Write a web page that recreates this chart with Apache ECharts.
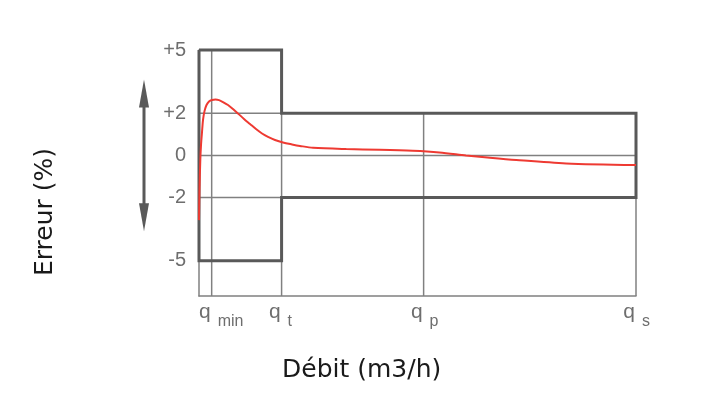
<!DOCTYPE html>
<html>
<head>
<meta charset="utf-8">
<script src="https://cdn.jsdelivr.net/npm/echarts@6/dist/echarts.min.js"></script>
<style>html,body{margin:0;padding:0;background:#fff}#chart{width:715px;height:406px}</style>
</head>
<body>
<div id="chart"></div>
<script>
// ---- data ----
const qNames = ['min', 't', 'p', 's'];          // subscripts of q
const qPositions = [2.9, 18.9, 51.4, 100];       // relative flow (% of qs)
const yTickValues = [5, 2, 0, -2, -5];           // error tick labels (%)
const yMin = -6.67, yMax = 5;
const refLevels = [2, 0, -2];                    // thin horizontal reference lines
const mpeLowFlow = 5;                            // max permissible error below qt (%)
const mpeHighFlow = 2;                           // max permissible error above qt (%)
const curveX = [0, 0.11, 0.3, 0.46, 0.69, 0.92, 1.26, 1.72, 2.29, 2.97, 3.78, 4.58, 5.49, 6.64, 7.78, 8.92, 10.3, 11.67, 13.04, 14.42, 15.79, 17.39, 19.22, 21.28, 23.1, 26.1, 33.7, 41.3, 48.9, 55.0, 61.1, 66.0, 72.6, 84.0, 100];
const curveY = [-3.07, -1.65, -0.22, 0.49, 1.11, 1.68, 2.1, 2.39, 2.56, 2.63, 2.65, 2.62, 2.53, 2.39, 2.2, 1.99, 1.73, 1.49, 1.25, 1.04, 0.88, 0.73, 0.61, 0.52, 0.45, 0.36, 0.3, 0.27, 0.22, 0.14, 0.0, -0.1, -0.22, -0.38, -0.46];
const arrowRange = [-3.6, 3.6];

(function () {
const qmin = qPositions[0], qt = qPositions[1], qp = qPositions[2], qs = qPositions[3];
const thin = { color: '#808080', width: 1.5 };
const series = [];
function seg(points, style, z) {
  series.push({ type: 'line', data: points, symbol: 'none', clip: false, silent: true,
    lineStyle: style, z: z, animation: false });
}
refLevels.forEach(v => seg([[0, v], [100, v]], thin, 1));
seg([[qmin, yMin], [qmin, yMax]], thin, 1);
seg([[qt, yMin], [qt, yMax]], thin, 1);
seg([[qp, yMin], [qp, mpeHighFlow]], thin, 1);
seg([[qs, yMin], [qs, mpeHighFlow]], thin, 1);
seg([[0, mpeLowFlow], [qt, mpeLowFlow], [qt, mpeHighFlow], [qs, mpeHighFlow], [qs, -mpeHighFlow],
     [qt, -mpeHighFlow], [qt, -mpeLowFlow], [0, -mpeLowFlow], [0, mpeLowFlow]],
    { color: '#595959', width: 3, join: 'miter' }, 2);
series.push({ type: 'line', data: curveX.map((x, i) => [x, curveY[i]]), symbol: 'none',
  smooth: 0.3, clip: false, lineStyle: { color: '#ee3a32', width: 2 }, z: 3, animation: false });

const labelColor = '#6e6e6e';
const chart = echarts.init(document.getElementById('chart'), null, { renderer: 'canvas' });
chart.setOption({
  animation: false,
  grid: { left: 199, top: 50, width: 437, height: 246, containLabel: false },
  xAxis: [
    { type: 'value', min: 0, max: 100, splitLine: { show: false },
      axisLine: { show: true, onZero: false, lineStyle: thin }, axisTick: { show: false },
      axisLabel: { customValues: qPositions, formatter: () => 'q', align: 'right', padding: [0, 1, 0, 0],
        fontSize: 21, color: labelColor, fontFamily: 'Liberation Sans', margin: 6 } },
    { type: 'value', min: 0, max: 100, position: 'bottom', splitLine: { show: false },
      axisLine: { show: false }, axisTick: { show: false },
      axisLabel: { customValues: qPositions,
        formatter: v => { let k = 0; qPositions.forEach((p, i) => { if (Math.abs(p - v) < Math.abs(qPositions[k] - v)) k = i; }); return qNames[k]; },
        align: 'left', padding: [0, 0, 0, 6], fontSize: 16, color: labelColor, fontFamily: 'Liberation Sans', margin: 18 } }
  ],
  yAxis: { type: 'value', min: yMin, max: yMax, splitLine: { show: false },
    axisLine: { show: true, lineStyle: thin }, axisTick: { show: false },
    axisLabel: { customValues: yTickValues, formatter: v => v > 0 ? '+' + v : String(v),
      fontSize: 20, color: labelColor, fontFamily: 'Liberation Sans', margin: 13 } },
  title: { text: 'Débit (m3/h)', left: 277, top: 353,
    textStyle: { fontFamily: 'DejaVu Sans', fontWeight: 'normal', fontSize: 25, color: '#1a1a1a' } },
  series: series
});

const yTop = chart.convertToPixel({ yAxisIndex: 0 }, arrowRange[1]);
const yBot = chart.convertToPixel({ yAxisIndex: 0 }, arrowRange[0]);
const ax = 144, head = 28, hw = 5;
chart.setOption({ graphic: [
  { type: 'line', shape: { x1: ax, y1: yTop + head - 2, x2: ax, y2: yBot - head + 2 }, style: { stroke: '#595959', lineWidth: 3 } },
  { type: 'polygon', shape: { points: [[ax, yTop], [ax - hw, yTop + head], [ax + hw, yTop + head]] }, style: { fill: '#595959' } },
  { type: 'polygon', shape: { points: [[ax, yBot], [ax - hw, yBot - head], [ax + hw, yBot - head]] }, style: { fill: '#595959' } },
  { type: 'text', x: 45, y: 212, rotation: Math.PI / 2,
    style: { text: 'Erreur (%)', font: '25px "DejaVu Sans"', fill: '#1a1a1a', align: 'center', verticalAlign: 'middle' } }
] });
})();
</script>
</body>
</html>
